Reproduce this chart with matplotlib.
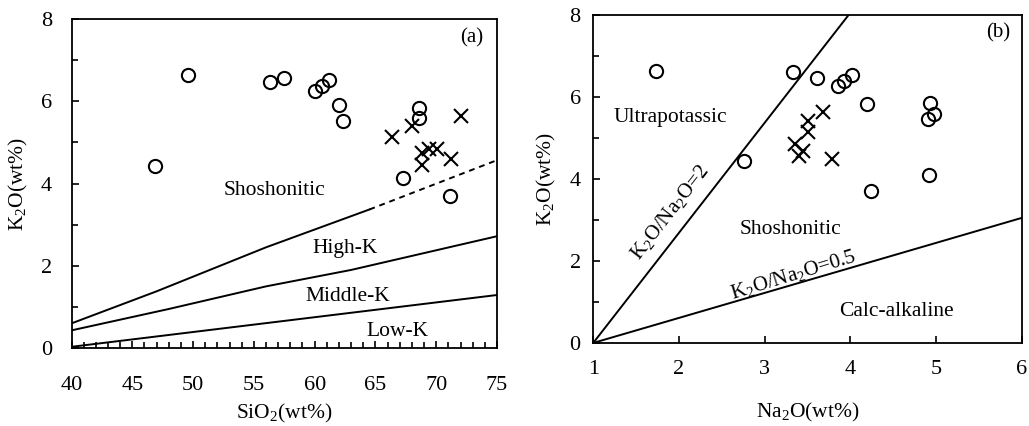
import matplotlib
matplotlib.use("Agg")
import matplotlib.pyplot as plt
from matplotlib.ticker import MultipleLocator

plt.rcParams['font.family'] = ['Liberation Serif', 'DejaVu Serif']
plt.rcParams['mathtext.fontset'] = 'custom'
plt.rcParams['mathtext.rm'] = 'Liberation Serif'
plt.rcParams['mathtext.it'] = 'Liberation Serif'

# panel (a): SiO2 vs K2O
sio2_circ = [46.9, 49.6, 56.3, 57.5, 60.0, 60.6, 61.2, 62.0, 62.3, 68.6, 68.6, 67.3, 71.1]
k2o_a_circ = [4.44, 6.63, 6.47, 6.58, 6.25, 6.37, 6.52, 5.90, 5.52, 5.85, 5.60, 4.14, 3.71]
sio2_cross = [66.4, 68.0, 72.0, 68.8, 69.4, 70.1, 71.2, 68.8]
k2o_a_cross = [5.13, 5.40, 5.64, 4.75, 4.83, 4.83, 4.59, 4.46]

# boundary lines (a)
shosh_x = [40, 47, 56, 64.5]
shosh_y = [0.60, 1.38, 2.45, 3.37]
shosh_dash_x = [64.5, 75]
shosh_dash_y = [3.37, 4.57]
highk_x = [40, 48, 56, 63, 75]
highk_y = [0.43, 0.95, 1.50, 1.90, 2.72]
lowk_x = [40, 75]
lowk_y = [0.03, 1.29]

# panel (b): Na2O vs K2O
na2o_circ = [1.73, 2.76, 3.33, 3.61, 3.86, 3.92, 4.02, 4.19, 4.24, 4.93, 4.97, 4.91, 4.92]
k2o_b_circ = [6.62, 4.43, 6.61, 6.46, 6.26, 6.38, 6.54, 5.83, 3.70, 5.84, 5.59, 5.46, 4.10]
na2o_cross = [3.68, 3.50, 3.51, 3.35, 3.45, 3.40, 3.78]
k2o_b_cross = [5.63, 5.42, 5.15, 4.84, 4.67, 4.57, 4.49]

ratio2_x = [1, 3.98]
ratio2_y = [0, 8]
ratio05_x = [1, 6]
ratio05_y = [0, 3.05]

fig = plt.figure(figsize=(10.29, 4.26), dpi=100)
ax1 = fig.add_axes([0.0695, 0.183, 0.4135, 0.772])
ax2 = fig.add_axes([0.5765, 0.195, 0.4165, 0.770])

mk = dict(ls='none', color='black')

def style(ax, xpad, ypad):
    for s in ax.spines.values():
        s.set_linewidth(1.3)
    ax.tick_params(direction='in', which='both', labelsize=16, width=1.2)
    ax.tick_params(which='major', length=5)
    ax.tick_params(which='minor', length=4)
    ax.tick_params(axis='x', pad=xpad)
    ax.tick_params(axis='y', pad=ypad)

# (a)
ax1.plot(shosh_x, shosh_y, color='black', lw=1.4)
ax1.plot(shosh_dash_x, shosh_dash_y, color='black', lw=1.4, ls=(0, (3, 2.5)))
ax1.plot(highk_x, highk_y, color='black', lw=1.4)
ax1.plot(lowk_x, lowk_y, color='black', lw=1.4)
ax1.plot(sio2_circ, k2o_a_circ, marker='o', ms=9.5, mfc='none', mew=1.5, **mk)
ax1.plot(sio2_cross, k2o_a_cross, marker='x', ms=9.5, mew=1.5, **mk)
ax1.set_xlim(40, 75)
ax1.set_ylim(0, 8)
ax1.xaxis.set_major_locator(MultipleLocator(5))
ax1.xaxis.set_minor_locator(MultipleLocator(1))
ax1.yaxis.set_major_locator(MultipleLocator(2))
ax1.yaxis.set_minor_locator(MultipleLocator(1))
style(ax1, 20, 14)
ax1.set_xlabel('SiO$_2$(wt%)', fontsize=15.5, labelpad=5)
ax1.set_ylabel('K$_2$O(wt%)', fontsize=15.5, labelpad=8)
ax1.text(72.9, 7.55, '(a)', fontsize=15, ha='center', va='center')
ax1.text(56.7, 3.84, 'Shoshonitic', fontsize=15.5, ha='center', va='center')
ax1.text(62.5, 2.43, 'High-K', fontsize=15.5, ha='center', va='center')
ax1.text(62.75, 1.25, 'Middle-K', fontsize=15.5, ha='center', va='center')
ax1.text(66.85, 0.40, 'Low-K', fontsize=15.5, ha='center', va='center')

# (b)
ax2.plot(ratio2_x, ratio2_y, color='black', lw=1.4)
ax2.plot(ratio05_x, ratio05_y, color='black', lw=1.4)
ax2.plot(na2o_circ, k2o_b_circ, marker='o', ms=9.5, mfc='none', mew=1.5, **mk)
ax2.plot(na2o_cross, k2o_b_cross, marker='x', ms=9.5, mew=1.5, **mk)
ax2.set_xlim(1, 6)
ax2.set_ylim(0, 8)
ax2.xaxis.set_major_locator(MultipleLocator(1))
ax2.yaxis.set_major_locator(MultipleLocator(2))
ax2.yaxis.set_minor_locator(MultipleLocator(1))
style(ax2, 12, 9)
ax2.set_xlabel('Na$_2$O(wt%)', fontsize=15.5, labelpad=16)
ax2.set_ylabel('K$_2$O(wt%)', fontsize=15.5, labelpad=8)
ax2.text(5.72, 7.56, '(b)', fontsize=15, ha='center', va='center')
ax2.text(1.90, 5.51, 'Ultrapotassic', fontsize=15.5, ha='center', va='center')
ax2.text(3.30, 2.76, 'Shoshonitic', fontsize=15.5, ha='center', va='center')
ax2.text(4.54, 0.77, 'Calc-alkaline', fontsize=15.5, ha='center', va='center')
ax2.text(1.90, 3.17, 'K$_2$O/Na$_2$O=2', fontsize=15, ha='center', va='center', rotation=52)
ax2.text(3.33, 1.67, 'K$_2$O/Na$_2$O=0.5', fontsize=15, ha='center', va='center', rotation=17)

fig.savefig('out.png', dpi=100)
